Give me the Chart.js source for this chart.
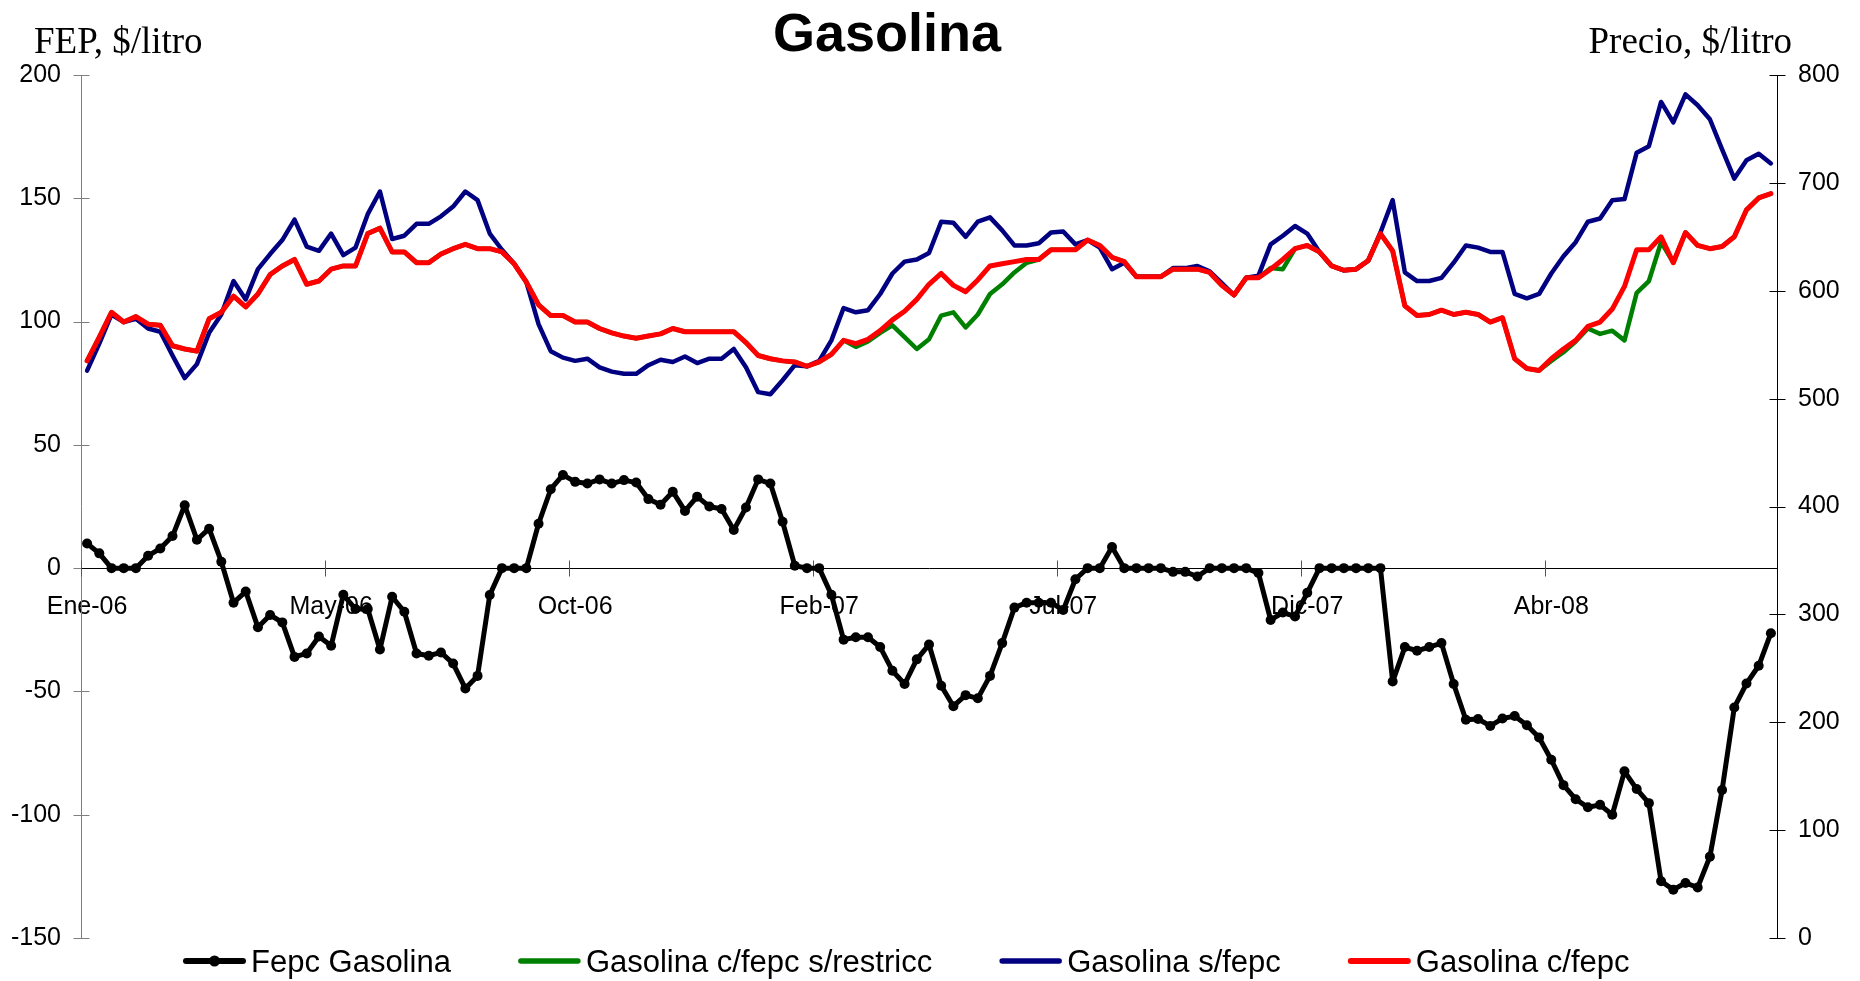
<!DOCTYPE html>
<html>
<head>
<meta charset="utf-8">
<title>Gasolina</title>
<script src="https://cdn.jsdelivr.net/npm/chart.js@4.4.1/dist/chart.umd.min.js"></script>
<style>
  html, body { margin: 0; padding: 0; background: #fff; }
  canvas { display: block; }
</style>
</head>
<body>
<canvas id="chart" width="1860" height="981"></canvas>
<script>
// weekly series, Jan-2006 .. Aug-2008
const tickLabels = ["Ene-06", "May-06", "Oct-06", "Feb-07", "Jul-07", "Dic-07", "Abr-08"];
const labelStep = 20;

// FEPC, $/litro (left axis)
const fepc = [
  10, 6, 0, 0, 0, 5, 8, 13, 25.5, 11.5,
  16, 2.6, -14, -9.5, -24, -19, -22, -36, -34.6, -27.7,
  -31.5, -10.8, -16.6, -16.6, -33, -11.6, -17.7, -34.6, -35.5, -34.2,
  -38.7, -48.8, -43.7, -10.9, 0, 0, 0, 18, 32, 37.8,
  35, 34.3, 36, 34.3, 35.7, 34.7, 28, 25.7, 31, 23.2,
  29, 25, 24, 15.5, 24.6, 36, 34.3, 18.8, 1, 0,
  0, -10.8, -29, -28, -28, -32, -41.6, -47, -37, -31,
  -47.7, -56, -51.5, -52.8, -43.7, -30.4, -16, -14, -14, -14,
  -17, -4.5, 0, 0, 8.6, 0, 0, 0, 0, -1.5,
  -1.5, -3.4, 0, 0, 0, 0, -2, -21, -18, -19.6,
  -10, 0, 0, 0, 0, 0, 0, -46, -32, -33.5,
  -32, -30.4, -47, -61.5, -61.2, -64, -61, -60, -63.7, -68.7,
  -77.7, -88, -93.7, -97, -96, -100, -82.4, -89.6, -95.3, -127,
  -130.4, -127.7, -129.5, -117, -90, -56.5, -46.8, -39.6, -26.4
];

// Precio, $/litro (right axis)
const conFepcSinRestr = [
  535, 557, 580, 571, 576, 569, 568, 549, 546, 544,
  574, 580, 595, 585, 597, 615, 623, 629, 606, 609,
  620, 623, 623, 653, 658, 636, 636, 626, 626, 634,
  639, 643, 639, 639, 636, 625, 608, 587, 577, 577,
  571, 571, 565, 561, 558, 556, 558, 560, 565, 562,
  562, 562, 562, 562, 552, 540, 537, 535, 534, 530,
  534, 541, 554, 548, 553, 561, 568, 557, 546, 555,
  577, 580, 566, 578, 597, 606, 617, 626, 629, 638,
  638, 638, 647, 642, 631, 627, 613, 613, 613, 620,
  620, 620, 617, 605, 596, 612, 612, 621, 620, 639,
  642, 636, 623, 619, 620, 628, 653, 637, 586, 577,
  578, 582, 578, 580, 578, 571, 575, 537, 528, 526,
  535, 543, 553, 565, 560, 563, 554, 598, 609, 645,
  626, 654, 642, 639, 641, 650, 675, 686, 690
];

const sinFepc = [
  526, 551, 578, 571, 574, 565, 562, 540, 519, 532,
  561, 578, 609, 592, 620, 634, 647, 666, 641, 637,
  653, 633, 640, 671, 692, 648, 651, 662, 662, 669,
  678, 692, 684, 653, 638, 625, 608, 569, 544, 538,
  535, 537, 529, 525, 523, 523, 531, 536, 534, 539,
  533, 537, 537, 546, 529, 506, 504, 517, 531, 530,
  535, 554, 584, 580, 582, 597, 616, 627, 629, 635,
  664, 663, 650, 664, 668, 656, 642, 642, 644, 654,
  655, 643, 647, 640, 620, 626, 613, 613, 613, 621,
  621, 623, 618, 607, 596, 612, 614, 643, 651, 660,
  653, 636, 623, 619, 620, 628, 654, 684, 617, 609,
  609, 612, 626, 642, 640, 636, 636, 597, 593, 597,
  616, 632, 645, 664, 667, 684, 685, 728, 734, 775,
  756, 782, 772, 759, 731, 704, 721, 727, 718
];

const conFepc = [
  535, 557, 580, 571, 576, 569, 568, 549, 546, 544,
  574, 580, 595, 585, 597, 615, 623, 629, 606, 609,
  620, 623, 623, 653, 658, 636, 636, 626, 626, 634,
  639, 643, 639, 639, 636, 625, 608, 587, 577, 577,
  571, 571, 565, 561, 558, 556, 558, 560, 565, 562,
  562, 562, 562, 562, 552, 540, 537, 535, 534, 530,
  534, 541, 554, 551, 555, 563, 573, 581, 592, 606,
  616, 605, 599, 610, 623, 625, 627, 629, 629, 638,
  638, 638, 647, 642, 631, 627, 613, 613, 613, 620,
  620, 620, 617, 605, 596, 612, 612, 620, 629, 639,
  642, 636, 623, 619, 620, 628, 653, 637, 586, 577,
  578, 582, 578, 580, 578, 571, 575, 537, 528, 526,
  537, 546, 554, 567, 571, 583, 604, 638, 638, 650,
  626, 654, 642, 639, 641, 650, 675, 686, 690
];

const weeks = fepc.map((v, i) => i);

const sans = "'Liberation Sans', Arial, sans-serif";
const serif = "'Liberation Serif', 'Times New Roman', serif";

function line(ctx, x1, y1, x2, y2) {
  ctx.beginPath();
  ctx.moveTo(x1, y1);
  ctx.lineTo(x2, y2);
  ctx.stroke();
}

const axesPlugin = {
  id: "axesLines",
  beforeDatasetsDraw(chart) {
    const { ctx, chartArea, scales } = chart;
    const zeroY = Math.round(scales.y.getPixelForValue(0)) + 0.5;
    const left = Math.round(chartArea.left) + 0.5;
    const right = Math.round(chartArea.right) + 0.5;
    ctx.save();
    ctx.lineWidth = 1;

    ctx.strokeStyle = "#7f7f7f";
    line(ctx, left, chartArea.top, left, chartArea.bottom);
    scales.y.ticks.forEach((t) => {
      const py = Math.round(scales.y.getPixelForValue(t.value)) + 0.5;
      line(ctx, left - 8, py, left + 8, py);
    });

    ctx.strokeStyle = "#000";
    line(ctx, right, chartArea.top, right, chartArea.bottom);
    scales.y2.ticks.forEach((t) => {
      const py = Math.round(scales.y2.getPixelForValue(t.value)) + 0.5;
      line(ctx, right - 8, py, right + 8, py);
    });

    line(ctx, left, zeroY, right, zeroY);
    const half = (scales.x.getPixelForValue(1) - scales.x.getPixelForValue(0)) / 2;
    ctx.strokeStyle = "#555";
    for (let i = 0; i < weeks.length; i += labelStep) {
      const px = Math.round(scales.x.getPixelForValue(i) - half) + 0.5;
      line(ctx, px, zeroY - 8, px, zeroY + 8);
    }
    ctx.restore();
  },
  afterDraw(chart) {
    const { ctx } = chart;
    ctx.save();
    ctx.fillStyle = "#000";

    ctx.font = "bold 54px " + sans;
    ctx.textAlign = "center";
    ctx.textBaseline = "alphabetic";
    ctx.fillText("Gasolina", 887, 51);

    ctx.font = "37px " + serif;
    ctx.textAlign = "left";
    ctx.fillText("FEP, $/litro", 34, 53);
    ctx.textAlign = "right";
    ctx.fillText("Precio, $/litro", 1792, 53);

    // legend, in the original series order
    const order = [3, 2, 1, 0];
    const legendY = 961;
    let x = 186;
    ctx.font = "31px " + sans;
    ctx.textAlign = "left";
    order.forEach((idx) => {
      const ds = chart.data.datasets[idx];
      ctx.strokeStyle = ds.borderColor;
      ctx.lineWidth = ds.borderWidth + 1;
      ctx.lineCap = "round";
      line(ctx, x, legendY, x + 57, legendY);
      if (ds.pointRadius > 0) {
        ctx.beginPath();
        ctx.fillStyle = ds.pointBackgroundColor;
        ctx.arc(x + 28.5, legendY, ds.pointRadius + 0.5, 0, Math.PI * 2);
        ctx.fill();
      }
      ctx.fillStyle = "#000";
      ctx.fillText(ds.label, x + 65, legendY + 11);
      x += 65 + ctx.measureText(ds.label).width + 70;
    });
    ctx.restore();
  }
};

const ctx = document.getElementById("chart").getContext("2d");

const chart = new Chart(ctx, {
  type: "line",
  data: {
    labels: weeks,
    datasets: [
      {
        label: "Gasolina c/fepc",
        data: conFepc,
        yAxisID: "y2",
        borderColor: "#ff0000",
        borderWidth: 5,
        pointRadius: 0,
        order: 0,
      },
      {
        label: "Gasolina s/fepc",
        data: sinFepc,
        yAxisID: "y2",
        borderColor: "#000080",
        borderWidth: 4.5,
        pointRadius: 0,
        order: 1,
      },
      {
        label: "Gasolina c/fepc s/restricc",
        data: conFepcSinRestr,
        yAxisID: "y2",
        borderColor: "#008000",
        borderWidth: 4.5,
        pointRadius: 0,
        order: 2,
      },
      {
        label: "Fepc Gasolina",
        data: fepc,
        yAxisID: "y",
        borderColor: "#000000",
        borderWidth: 5,
        pointRadius: 5,
        pointBackgroundColor: "#000000",
        pointBorderWidth: 0,
        order: 3,
      },
    ],
  },
  options: {
    responsive: false,
    animation: false,
    events: [],
    elements: {
      line: { tension: 0, borderJoinStyle: "round", borderCapStyle: "round" },
    },
    layout: { padding: { top: 75, bottom: 43, left: 0, right: 0 } },
    plugins: {
      legend: { display: false },
      title: { display: false },
      tooltip: { enabled: false },
    },
    scales: {
      x: {
        type: "category",
        offset: true,
        position: { y: 0 },
        grid: { display: false, drawTicks: false },
        border: { display: false },
        ticks: {
          autoSkip: false,
          minRotation: 0,
          maxRotation: 0,
          padding: 24,
          color: "#000",
          font: { family: sans, size: 25 },
          callback: (value, index) => (index % labelStep === 0 ? tickLabels[index / labelStep] : ""),
        },
      },
      y: {
        position: "left",
        min: -150,
        max: 200,
        grid: { display: false, drawTicks: false },
        border: { display: false },
        ticks: { stepSize: 50, padding: 20, color: "#000", font: { family: sans, size: 25 } },
        afterFit: (scale) => { scale.width = 81; },
      },
      y2: {
        position: "right",
        min: 0,
        max: 800,
        grid: { display: false, drawTicks: false },
        border: { display: false },
        ticks: { stepSize: 100, padding: 21, color: "#000", font: { family: sans, size: 25 } },
        afterFit: (scale) => { scale.width = 83; },
      },
    },
  },
  plugins: [axesPlugin],
});
</script>
</body>
</html>
